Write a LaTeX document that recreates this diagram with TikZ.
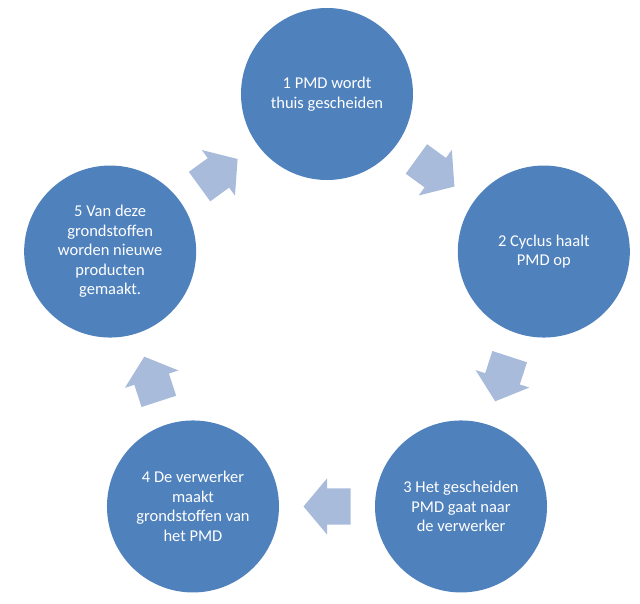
\documentclass[tikz,border=0pt]{standalone}
\usepackage{fontspec}
\setmainfont{Carlito}
\usetikzlibrary{shapes.arrows}
\definecolor{stepblue}{HTML}{4F81BD}
\definecolor{flowblue}{HTML}{A8BBDB}
\begin{document}
\begin{tikzpicture}[x=1pt, y=1pt,
  stepcircle/.style={circle, fill=stepblue, inner sep=0pt, minimum size=172pt, text=white, align=center, font=\fontsize{16.5}{19.5}\selectfont},
  flow/.style={single arrow, fill=flowblue, inner xsep=0pt, inner ysep=18pt, minimum height=47pt, minimum width=0pt, single arrow head extend=10pt, single arrow tip angle=100, sloped, allow upside down, pos=0.42}]
\useasboundingbox (-327,322) rectangle (313,-281);
\node[stepcircle] (c1) at (90:228){1 PMD wordt\\thuis gescheiden};
\node[stepcircle] (c2) at (18:228){2 Cyclus haalt\\PMD op};
\node[stepcircle] (c3) at (-54:228){3 Het gescheiden\\PMD gaat naar\\de verwerker};
\node[stepcircle] (c4) at (-126:228){4 De verwerker\\maakt\\grondstoffen van\\het PMD};
\node[stepcircle] (c5) at (162:228){5 Van deze\\grondstoffen\\worden nieuwe\\producten\\gemaakt.};
\path(c1) -- node[flow]{} (c2);
\path(c2) -- node[flow]{} (c3);
\path(c3) -- node[flow]{} (c4);
\path(c4) -- node[flow]{} (c5);
\path(c5) -- node[flow]{} (c1);

\end{tikzpicture}
\end{document}
